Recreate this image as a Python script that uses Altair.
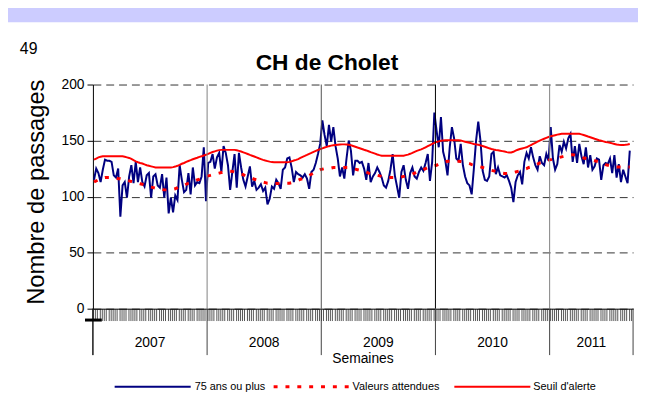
import altair as alt
import pandas as pd

# ---------------- data ----------------
years = ["2007", "2008", "2009", "2010", "2011"]
year_weeks = [52, 52, 52, 52, 38]
y_ticks = [0, 50, 100, 150, 200]
series_names = ["75 ans ou plus", "Valeurs attendues", "Seuil d'alerte"]

passages_75 = [
    115, 125, 121, 113, 124, 133, 132, 132, 131, 119,
    117, 125, 82, 110, 113, 99, 118, 128, 112, 131,
    113, 126, 113, 109, 119, 121, 99, 118, 120, 110,
    108, 120, 99, 117, 85, 99, 86, 101, 97, 128,
    115, 104, 106, 121, 102, 126, 110, 113, 112, 118,
    144, 96,
    130, 131, 138, 125, 135, 139, 122, 145, 139, 128,
    106, 122, 138, 108, 139, 126, 115, 109, 118, 127,
    109, 114, 106, 108, 111, 105, 108, 93, 98, 109,
    107, 115, 112, 107, 124, 126, 134, 135, 126, 113,
    122, 120, 119, 117, 120, 116, 107, 122, 124, 130,
    138, 147,
    168, 155, 145, 164, 149, 162, 145, 134, 118, 126,
    116, 134, 150, 141, 119, 132, 132, 130, 131, 125,
    115, 130, 113, 118, 121, 126, 122, 117, 110, 108,
    114, 124, 138, 119, 109, 99, 122, 128, 115, 107,
    121, 126, 118, 116, 122, 126, 123, 130, 138, 114,
    131, 175,
    159, 144, 171, 140, 132, 119, 144, 162, 152, 134,
    132, 147, 128, 118, 112, 110, 102, 125, 150, 167,
    150, 123, 115, 114, 118, 138, 140, 120, 126, 119,
    118, 117, 119, 114, 108, 95, 113, 119, 122, 111,
    131, 139, 134, 144, 135, 128, 124, 136, 130, 128,
    138, 132,
    162, 134, 124, 129, 146, 140, 149, 143, 152, 156,
    131, 145, 130, 147, 136, 129, 144, 126, 137, 124,
    127, 134, 133, 115, 128, 130, 129, 134, 121, 137,
    117, 129, 113, 124, 118, 112, 141,
]

valeurs_attendues = [
    113, 114, 115, 116, 116.5, 117, 117, 117, 117, 117,
    116.5, 116, 116, 115.5, 115, 114.5, 114, 113.5, 113, 112.5,
    112, 111.5, 111, 110.5, 110, 109, 108.5, 108, 107.5, 107,
    106.5, 106.5, 106, 106, 106, 106, 106.5, 107, 108, 109,
    109.5, 110, 111, 112, 112.5, 113, 114, 115, 115.5, 116.5,
    117.5, 118,
    118.5, 119, 119.5, 120, 120.5, 121, 121.5, 122, 122.5, 122.7,
    122.7, 122.5, 122, 121.5, 120.5, 120, 119.5, 118.5, 118, 117,
    116.5, 115.5, 115, 114, 113.5, 113, 112.5, 112, 112, 111.7,
    111.7, 111.7, 111.7, 111.7, 111.7, 111.8, 112, 112, 112.5, 113,
    113.5, 114.5, 115.5, 116, 117, 118, 119, 120, 121, 122,
    123, 124,
    124.5, 125, 125, 125.5, 125.5, 126, 126, 126, 126, 126,
    126, 126, 126, 125.5, 125, 124.5, 124, 123.5, 123, 122.5,
    122, 121, 120.5, 120, 119.5, 119, 118.5, 118, 117.5, 117,
    117, 117, 117, 117, 117, 117, 117.5, 118, 118.5, 119,
    119.5, 120, 121, 122, 122.5, 123.5, 124, 125, 126, 126.5,
    127, 127.5,
    128, 129, 130, 130.5, 131, 131.5, 131.5, 131.5, 131.5, 131.5,
    131.5, 131.3, 131, 130.5, 130, 129.5, 128.5, 128, 127.5, 127,
    126.5, 126, 125.5, 125, 124, 123.5, 123, 122.5, 122, 121.5,
    121, 120.7, 120.7, 120.7, 121, 121.5, 122, 122.5, 123, 123.6,
    124.5, 125, 126, 126.5, 127, 128, 129, 130, 130.5, 131,
    132, 132.5,
    133, 133.5, 134, 134.5, 135, 135.5, 136, 136.5, 137, 137.4,
    137.4, 137, 136.5, 136, 135, 134.5, 134, 133.5, 133, 132.5,
    132, 131.5, 131, 130, 129.5, 128.5, 128, 127.5, 127, 127,
    126.5, 126.5, 126.4, 126.4, 126.4, 126.4, 126.4,
]

seuil_alerte = [
    133, 134, 135, 135.5, 136, 136, 136, 136, 136, 136,
    136, 136, 136, 136, 135.5, 135, 134.5, 133.6, 132.5, 131.5,
    130.7, 130, 129.5, 128.7, 128, 127.5, 127, 126.5, 126, 125.9,
    125.9, 125.9, 125.9, 125.9, 125.9, 125.9, 126.3, 126.8, 127.5, 128.3,
    129.3, 130, 131, 131.8, 132.5, 133.3, 134, 134.7, 135.5, 136,
    136.7, 137.3,
    138.2, 139, 139.8, 140.4, 141, 141.5, 141.7, 141.7, 141.7, 141.7,
    141.7, 141.7, 141.7, 141.3, 140.8, 140.2, 139.5, 138.8, 138, 137.2,
    136.5, 135.8, 135, 134.2, 133.5, 132.8, 132.2, 131.7, 131.2, 130.8,
    130.7, 130.7, 130.7, 130.7, 130.7, 130.7, 130.7, 131, 131.5, 132.2,
    132.8, 133.5, 134.5, 135.5, 136.3, 137.2, 138.2, 139, 140, 140.8,
    141.6, 142.4,
    143.1, 143.8, 144.4, 145, 145.5, 145.8, 146.1, 146.3, 146.5, 146.6,
    146.6, 146.5, 146.2, 145.8, 145.2, 144.5, 143.8, 143.2, 142.5, 141.8,
    141.2, 140.5, 139.7, 139, 138.3, 137.6, 137, 136.5, 136.5, 136.5,
    136.5, 136.5, 136.5, 136.5, 136.5, 136.5, 136.5, 136.5, 137, 137.5,
    138.2, 139, 140, 140.8, 141.5, 142.2, 143, 144, 145, 146,
    147, 148,
    148.8, 149.3, 149.8, 150.1, 150.3, 150.3, 150.3, 150.3, 150.3, 150.3,
    150.3, 150, 149.5, 149, 148.5, 148, 147.5, 147, 146.6, 146.2,
    145.7, 145.1, 144.5, 143.8, 143.1, 142.5, 142, 141.6, 141.3, 141,
    140.6, 140.2, 139.7, 139.4, 139.4, 140, 141, 141.8, 142.5, 143,
    143.5, 144, 145, 146, 147, 148, 149, 150, 150.8, 151.6,
    152.4, 153.2,
    153.8, 154.3, 154.8, 155.3, 155.7, 156, 156, 156, 156, 156,
    156, 156, 156, 156, 155.5, 155, 154.3, 153.6, 153, 152.3,
    151.6, 151, 150.3, 149.8, 149.3, 148.8, 148.4, 148, 147.5, 147,
    146.5, 146.2, 146, 146, 146.2, 146.5, 147,
]

# ---------------- tables ----------------
n = len(passages_75)
df = pd.DataFrame({
    "semaine": [i + 0.5 for i in range(n)],
    "passages": passages_75,
    "attendues": valeurs_attendues,
    "seuil": seuil_alerte,
})

bounds = [0]
for w in year_weeks:
    bounds.append(bounds[-1] + w)
x_max = bounds[-1]

df_years = pd.DataFrame({
    "year": years,
    "center": [(bounds[i] + bounds[i + 1]) / 2 for i in range(len(years))],
})
df_sep = pd.DataFrame({
    "pos": bounds[1:-1],
    "col": ["#808080", "#505050", "#000000", "#808080"],
})
df_sep_low = pd.DataFrame({"pos": bounds})
one = pd.DataFrame({"a": [0]})

W, H = 547, 227
FONT = "Liberation Sans"

xs = alt.Scale(domain=[0, x_max], nice=False, zero=False)
ys = alt.Scale(domain=[0, 200], nice=False)

x_axis = alt.Axis(values=list(range(0, x_max)), tickSize=12, tickColor="#555555",
                  tickWidth=1, labels=False, domainColor="black", grid=False,
                  title=None)
y_axis = alt.Axis(values=y_ticks, labelFontSize=14, labelFont=FONT,
                  labelColor="black", tickSize=6, tickColor="black",
                  domainColor="black", grid=True, gridDash=[8, 5],
                  gridColor="#333333", gridWidth=1, labelPadding=3,
                  title=None)

def X(field):
    return alt.X(field, scale=xs, axis=x_axis)

def Y(field):
    return alt.Y(field, scale=ys, axis=y_axis)

# lavender band at the top of the frame
band = alt.Chart(one).mark_rect(color="#CCCCFF").encode(
    x=alt.value(-90), x2=alt.value(W + 20), y=alt.value(-80), y2=alt.value(-63)
)

sep = alt.Chart(df_sep).mark_rule(strokeWidth=1).encode(
    x=X("pos:Q"),
    y=alt.value(0), y2=alt.value(H),
    color=alt.Color("col:N", scale=None),
)
sep_low = alt.Chart(df_sep_low).mark_rule(strokeWidth=1, color="#404040").encode(
    x=X("pos:Q"),
    y=alt.value(H), y2=alt.value(H + 47),
)

blue = alt.Chart(df).mark_line(color="#000080", strokeWidth=2).encode(
    x=X("semaine:Q"), y=Y("passages:Q"),
)
expected = alt.Chart(df).mark_line(color="#FF0000", strokeWidth=3, strokeDash=[4, 8]).encode(
    x=X("semaine:Q"), y=Y("attendues:Q"),
)
alert = alt.Chart(df).mark_line(color="#FF0000", strokeWidth=2).encode(
    x=X("semaine:Q"), y=Y("seuil:Q"),
)

year_txt = alt.Chart(df_years).mark_text(font=FONT, fontSize=14, color="black",
                                          baseline="alphabetic").encode(
    x=X("center:Q"),
    y=alt.value(266),
    text="year:N",
)

def txt(s, x, y, size, **kw):
    return alt.Chart(one).mark_text(text=s, font=FONT, fontSize=size, color="black", **kw).encode(
        x=alt.value(x), y=alt.value(y)
    )

axis_ext = alt.Chart(one).mark_rule(color="black").encode(
    x=alt.value(0), y=alt.value(H), y2=alt.value(H + 47)
)
black_bar = alt.Chart(one).mark_rule(color="black", strokeWidth=3).encode(
    x=alt.value(-8), x2=alt.value(9), y=alt.value(238.5)
)

texts = [
    txt("49", -74, -31, 16, align="left", baseline="alphabetic"),
    txt("CH de Cholet", 237, -15, 23, align="center", baseline="alphabetic", fontWeight="bold"),
    txt("Nombre de passages", -57, 109, 24, align="center", baseline="middle", angle=270),
    txt("Semaines", W / 2, 282, 14, align="center", baseline="alphabetic"),
]

LY = 306
leg_blue = alt.Chart(one).mark_rule(color="#000080", strokeWidth=2).encode(
    x=alt.value(22), x2=alt.value(99), y=alt.value(LY))
leg_exp = alt.Chart(one).mark_rule(color="#FF0000", strokeWidth=3, strokeDash=[4, 8]).encode(
    x=alt.value(183), x2=alt.value(260), y=alt.value(LY))
leg_alert = alt.Chart(one).mark_rule(color="#FF0000", strokeWidth=2).encode(
    x=alt.value(366), x2=alt.value(443), y=alt.value(LY))
leg_txt = [
    txt(series_names[0], 103, LY, 11, align="left", baseline="middle"),
    txt(series_names[1], 263, LY, 11, align="left", baseline="middle"),
    txt(series_names[2], 446, LY, 11, align="left", baseline="middle"),
]

chart = alt.layer(
    band, blue, expected, alert, sep, sep_low, axis_ext, year_txt, black_bar,
    leg_blue, leg_exp, leg_alert, *texts, *leg_txt
).properties(
    width=W, height=H,
    background="white",
    padding={"left": 86, "top": 75, "right": 5, "bottom": 93},
    autosize=alt.AutoSizeParams(type="none"),
).configure_view(stroke=None)

chart.save("out.html", embed_options={"renderer": "svg", "actions": False})
